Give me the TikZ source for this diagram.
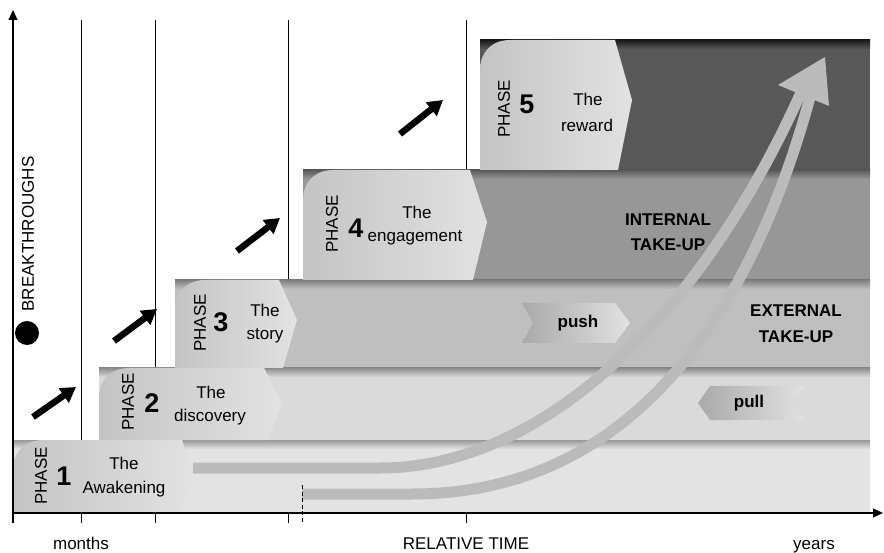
\documentclass[tikz,border=0pt]{standalone}
\usepackage{fontspec}
\setmainfont{Liberation Sans}
\usetikzlibrary{arrows.meta}

\definecolor{bandone}{HTML}{E3E3E3}
\definecolor{bandtwo}{HTML}{DADADA}
\definecolor{bandthree}{HTML}{BFBFBF}
\definecolor{bandfour}{HTML}{979797}
\definecolor{bandfive}{HTML}{585858}
\definecolor{takeup}{HTML}{BBBBBB}
\definecolor{silverL}{HTML}{C4C4C4}
\definecolor{silverM}{HTML}{FDFDFD}
\definecolor{silverR}{HTML}{E2E2E2}
\definecolor{chevL}{HTML}{A9A9A9}
\definecolor{chevR}{HTML}{E2E2E2}

\tikzset{
  txt/.style={inner sep=0pt,font=\fontsize{17}{19}\selectfont},
  boldtxt/.style={inner sep=0pt,font=\fontsize{17}{19}\selectfont\bfseries},
  phasenum/.style={inner sep=0pt,font=\fontsize{27}{29}\selectfont\bfseries},
  phaseword/.style={txt,rotate=90},
  axis/.style={line width=1.2pt,-{Triangle[length=10pt,width=9pt]}},
  breakarrow/.style={line width=6.5pt,-{Triangle[length=15pt,width=17pt]}},
  flow/.style={line width=11pt,draw=takeup},
}

% band: left, top, bottom, colour, shadow colour
\newcommand{\band}[5]{%
  \fill[#4] (#1,#2) rectangle (870,#3);
  \shade[top color=#5,bottom color=#4] (#1,#2) rectangle (870,#2+9);
}
% phase box: left, top, bottom, top right, tip x, tip y
\newcommand{\phasebox}[6]{%
  \shade[left color=silverL,middle color=silverM,right color=silverR]
    (#1,#3) -- (#1,#2+30) .. controls (#1,#2+12) and (#1+12,#2) .. (#1+30,#2)
    -- (#4,#2) -- (#5,#6) -- (#5-14,#3) -- cycle;
}

\begin{document}
\begin{tikzpicture}[x=1pt,y=-1pt]
	\useasboundingbox (0,0) rectangle (884,553);
	\foreach \x in {81,155,288,466}
		\draw[line width=0.9pt] (\x,20) -- (\x,523);

	\band{480}{40}{170}{bandfive}{black!90}
	\band{303}{170}{280}{bandfour}{black!65}
	\band{175}{280}{368}{bandthree}{black!50}
	\band{99}{368}{440}{bandtwo}{black!45}
	\band{13}{440}{513}{bandone}{black!40}

	\phasebox{13}{440}{513}{182}{194}{474}
	\phasebox{99}{368}{440}{264}{282}{403}
	\phasebox{175}{280}{368}{279}{297}{320}
	\phasebox{303}{170}{280}{470}{487}{222}
	\phasebox{480}{40}{170}{615}{632}{100}

	\node[phaseword] (p1word) at (41,476) {PHASE};
	\node[phasenum] (p1num) at (64,476) {1};
	\node[txt] (p1the) at (124,463) {The};
	\node[txt] (p1name) at (124,489) {Awakening};

	\node[phaseword] (p2word) at (128,402) {PHASE};
	\node[phasenum] (p2num) at (152,403) {2};
	\node[txt] (p2the) at (211,392) {The};
	\node[txt] (p2name) at (210,417) {discovery};

	\node[phaseword] (p3word) at (200,323) {PHASE};
	\node[phasenum] (p3num) at (221,322) {3};
	\node[txt] (p3the) at (265,310) {The};
	\node[txt] (p3name) at (265,336) {story};

	\node[phaseword] (p4word) at (332,224) {PHASE};
	\node[phasenum] (p4num) at (356,228) {4};
	\node[txt] (p4the) at (417,212) {The};
	\node[txt] (p4name) at (415,238) {engagement};

	\node[phaseword] (p5word) at (504,109) {PHASE};
	\node[phasenum] (p5num) at (527,104) {5};
	\node[txt] (p5the) at (588,99) {The};
	\node[txt] (p5name) at (587,125) {reward};

	\shade[left color=chevL,right color=chevR] (522,303) -- (615,303) -- (630,323) -- (615,343) -- (522,343) -- (533,323) -- cycle;
	\shade[left color=chevL,right color=chevR] (710,386) -- (805,386) -- (793,403) -- (805,420) -- (710,420) -- (698,403) -- cycle;
	\node[boldtxt] (push) at (578,323) {push};
	\node[boldtxt] (pull) at (749,403) {pull};

	\node[boldtxt] (internal) at (668,220) {INTERNAL};
	\node[boldtxt] (internal2) at (668,245) {TAKE-UP};
	\node[boldtxt] (external) at (796,311) {EXTERNAL};
	\node[boldtxt] (external2) at (796,337) {TAKE-UP};

	\coordinate (fa0) at (193,468);
	\coordinate (fa1) at (380,468);
	\coordinate (fa2) at (803,88);
	\coordinate (fb0) at (302,494);
	\coordinate (fb1) at (413,494);
	\coordinate (fb2) at (812,90);
	\draw[flow] (fa0) -- (fa1) .. controls (540,468) and (700,320) .. (fa2);
	\draw[flow] (fb0) -- (fb1) .. controls (600,494) and (740,360) .. (fb2);
	\fill[takeup] (825,57) -- (778,85) -- (829,106) -- cycle;

	\draw[axis] (13,523) -- (13,10);
	\draw[axis] (13,513) -- (883,513);
	\draw[line width=1pt,dash pattern=on 4pt off 2.5pt] (302,485) -- (302,523);

	\node[circle,fill,minimum size=24pt,inner sep=0pt] (dot) at (27,333) {};
	\node[phaseword] (brk) at (28,234) {BREAKTHROUGHS};

	\coordinate (b1s) at (33,417);
	\coordinate (b1e) at (76,387);
	\coordinate (b2s) at (114,341);
	\coordinate (b2e) at (157,309);
	\coordinate (b3s) at (237,251);
	\coordinate (b3e) at (280,218);
	\coordinate (b4s) at (400,134);
	\coordinate (b4e) at (443,100);
	\draw[breakarrow] (b1s) -- (b1e);
	\draw[breakarrow] (b2s) -- (b2e);
	\draw[breakarrow] (b3s) -- (b3e);
	\draw[breakarrow] (b4s) -- (b4e);

	\node[txt,anchor=base] (months) at (81,549) {months};
	\node[txt,anchor=base] (reltime) at (466,549) {RELATIVE TIME};
	\node[txt,anchor=base] (years) at (814,549) {years};
\end{tikzpicture}
\end{document}
